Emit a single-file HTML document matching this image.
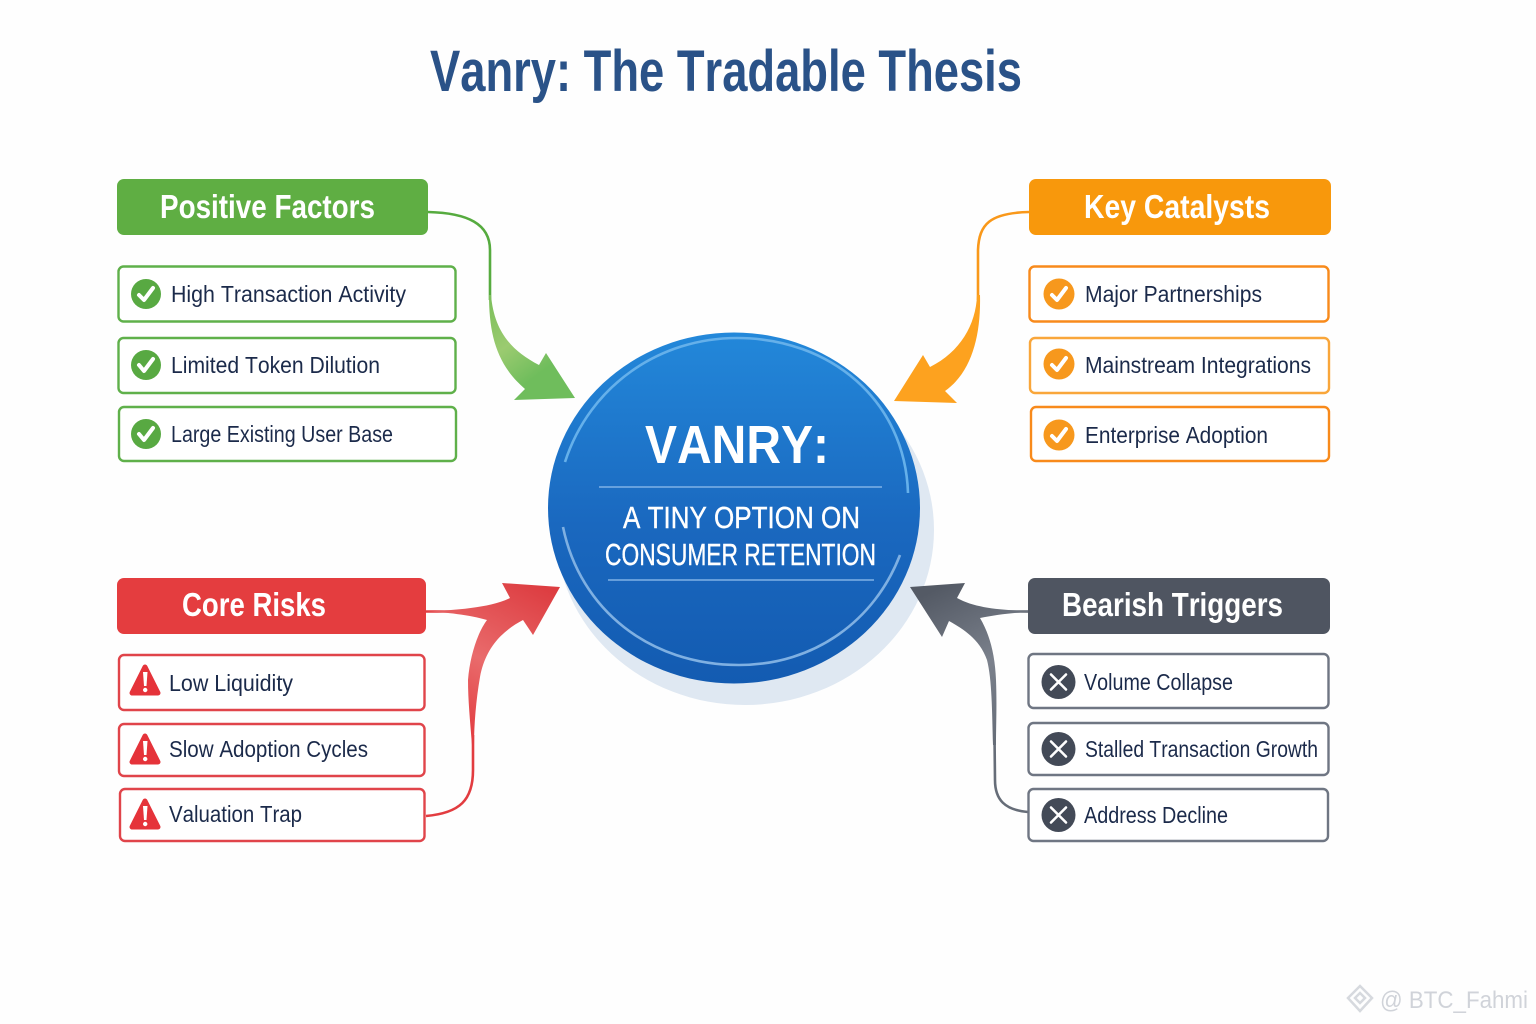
<!DOCTYPE html>
<html><head><meta charset="utf-8"><style>
html,body{margin:0;padding:0;background:#fefefe}
svg{display:block}
text{font-family:"Liberation Sans",Arial,sans-serif;font-kerning:none}
.h{font-size:33px;font-weight:bold;fill:#fff}
.i{font-size:23px;fill:#1b2a4a}
.box{fill:#fff;stroke-width:2.4}
.ck{fill:none;stroke:#fff;stroke-width:4;stroke-linecap:round;stroke-linejoin:round}
.xx{fill:none;stroke:#fff;stroke-width:2.6;stroke-linecap:round}
</style></head><body>
<svg width="1536" height="1024" viewBox="0 0 1536 1024" xmlns="http://www.w3.org/2000/svg">
<defs>
<linearGradient id="disc" x1="0" y1="0" x2="0" y2="1"><stop offset="0" stop-color="#2388da"/><stop offset=".55" stop-color="#1a68bf"/><stop offset="1" stop-color="#135bb1"/></linearGradient>
<linearGradient id="gA" gradientUnits="userSpaceOnUse" x1="490" y1="300" x2="560" y2="395"><stop offset="0" stop-color="#7dbf5c"/><stop offset=".4" stop-color="#9bcb70"/><stop offset=".75" stop-color="#6fbd5c"/></linearGradient>
<linearGradient id="rA" gradientUnits="userSpaceOnUse" x1="472" y1="740" x2="550" y2="590"><stop offset="0" stop-color="#e23c40"/><stop offset=".45" stop-color="#e96b6c"/><stop offset="1" stop-color="#dd3d41"/></linearGradient>
<linearGradient id="kA" gradientUnits="userSpaceOnUse" x1="995" y1="740" x2="925" y2="595"><stop offset="0" stop-color="#666d78"/><stop offset=".45" stop-color="#7b818c"/><stop offset="1" stop-color="#545a65"/></linearGradient>
</defs>
<rect width="1536" height="1024" fill="#fefefe"/>

<text x="430" y="91" font-size="58" font-weight="bold" fill="#2a5288" textLength="592" lengthAdjust="spacingAndGlyphs">Vanry: The Tradable Thesis</text>

<!-- disc -->
<ellipse cx="745" cy="530" rx="189" ry="175" fill="#dfe8f2"/>
<ellipse cx="734" cy="508" rx="186" ry="175.500" fill="url(#disc)"/>
<path d="M565 462C590 385 660 338 737 338C830 338 905 400 908 493" fill="none" stroke="#65b0ea" stroke-width="2.600"/>
<path d="M563 527C580 610 650 665 739 665C815 665 875 620 900 555" fill="none" stroke="#7fb0e2" stroke-width="2.600"/>
<text x="645" y="463" font-size="54" font-weight="bold" fill="#fff" textLength="184" lengthAdjust="spacingAndGlyphs">VANRY:</text>
<line x1="599" y1="487" x2="882" y2="487" stroke="#7fb2e6" stroke-width="1.500"/>
<text x="623" y="528" font-size="31" fill="#fff" stroke="#fff" stroke-width=".4" textLength="237" lengthAdjust="spacingAndGlyphs">A TINY OPTION ON</text>
<text x="605" y="565" font-size="31" fill="#fff" stroke="#fff" stroke-width=".4" textLength="271" lengthAdjust="spacingAndGlyphs">CONSUMER RETENTION</text>
<line x1="608" y1="580" x2="874" y2="580" stroke="#7fb2e6" stroke-width="1.500"/>

<!-- connectors -->
<path d="M428 212C468 213 490 224 490 250L490 300" fill="none" stroke="#56ab3f" stroke-width="2.6"/>
<path d="M489 295C489 335 497 365 525 389L514 400L575 398L546 353L539 365C510 350 494 330 491 295Z" fill="url(#gA)"/>

<path d="M1029 212C990 213 979 224 978 250L978 300" fill="none" stroke="#f9981a" stroke-width="2.6"/>
<path d="M977 295C976 325 960 352 930 367L923 355L894 401L957 403L945 391C972 372 981 335 980 295Z" fill="#fda21f"/>

<path d="M426 816C460 813 473 800 473 770L473 735" fill="none" stroke="#e23c40" stroke-width="2.6"/>
<path d="M426 611.500L470 611.500" fill="none" stroke="#e23c40" stroke-width="2.6"/>
<path d="M472 745C470 720 468 700 468 680C470 655 478 632 487 620C470 615 445 612 426 611.500C455 610 490 608 510 598L502 583L560 587L533 635L523 620C500 632 485 650 480 677C476 700 474 725 474 745Z" fill="url(#rA)"/>

<path d="M1028 812C1005 810 995 800 995 780L994.500 735" fill="none" stroke="#666d78" stroke-width="2.6"/>
<path d="M1028 611.500L985 611.500" fill="none" stroke="#5a606b" stroke-width="2.6"/>
<path d="M993 745C992 710 992 680 987 660C980 640 965 630 949 621L942 637L910 587L965 583L957 598C975 608 1000 610 1028 611L1028 612C1010 613 995 615 980 618C990 635 995 655 996 680C997 705 996 725 996 745Z" fill="url(#kA)"/>

<!-- headers -->
<rect x="117" y="179" width="311" height="56" rx="7" fill="#5fae43"/>
<text class="h" x="160" y="218" textLength="215" lengthAdjust="spacingAndGlyphs">Positive Factors</text>
<rect x="1029" y="179" width="302" height="56" rx="7" fill="#f8980c"/>
<text class="h" x="1084" y="218" textLength="186" lengthAdjust="spacingAndGlyphs">Key Catalysts</text>
<rect x="117" y="578" width="309" height="56" rx="7" fill="#e43d3f"/>
<text class="h" x="182" y="616" textLength="144" lengthAdjust="spacingAndGlyphs">Core Risks</text>
<rect x="1028" y="578" width="302" height="56" rx="7" fill="#4f5561"/>
<text class="h" x="1062" y="616" textLength="221" lengthAdjust="spacingAndGlyphs">Bearish Triggers</text>

<!-- green -->
<g stroke="#5fb04a" class="box">
<rect x="118.500" y="266.500" width="337" height="55" rx="5"/>
<rect x="118.500" y="338" width="337" height="55" rx="5"/>
<rect x="119" y="407" width="337" height="54" rx="5"/>
</g>
<g fill="#58a942">
<circle cx="146" cy="294" r="15"/><circle cx="146" cy="365" r="15"/><circle cx="146" cy="434" r="15"/>
</g>
<path class="ck" d="M139 295L144 300L153 288"/><path class="ck" d="M139 365L144 371L153 359"/><path class="ck" d="M139 434L144 440L153 428"/>
<text class="i" x="171" y="302" textLength="235" lengthAdjust="spacingAndGlyphs">High Transaction Activity</text>
<text class="i" x="171" y="373" textLength="209" lengthAdjust="spacingAndGlyphs">Limited Token Dilution</text>
<text class="i" x="171" y="442" textLength="222" lengthAdjust="spacingAndGlyphs">Large Existing User Base</text>

<!-- orange -->
<g stroke="#f88a1b" class="box">
<rect x="1029.500" y="266.500" width="299" height="55" rx="5"/>
<rect x="1030" y="338" width="299" height="55" rx="5" stroke="#f9a63a"/>
<rect x="1031" y="407" width="298" height="54" rx="5"/>
</g>
<g fill="#f7981d">
<circle cx="1059" cy="294" r="15.500"/><circle cx="1059" cy="364" r="15.500"/><circle cx="1059" cy="435" r="15.500"/>
</g>
<path class="ck" d="M1052 295L1057 300L1066 288"/><path class="ck" d="M1052 365L1057 370L1066 358"/><path class="ck" d="M1052 436L1057 441L1066 429"/>
<text class="i" x="1085" y="302" textLength="177" lengthAdjust="spacingAndGlyphs">Major Partnerships</text>
<text class="i" x="1085" y="373" textLength="226" lengthAdjust="spacingAndGlyphs">Mainstream Integrations</text>
<text class="i" x="1085" y="443" textLength="183" lengthAdjust="spacingAndGlyphs">Enterprise Adoption</text>

<!-- red -->
<g stroke="#e0444a" class="box">
<rect x="119" y="655" width="305.500" height="55" rx="5"/>
<rect x="119" y="724" width="305.500" height="52" rx="5"/>
<rect x="120" y="789" width="304.500" height="52" rx="5"/>
</g>
<g fill="#e5333a" stroke="#e5333a" stroke-width="5" stroke-linejoin="round">
<path d="M145 667L132 693H158Z"/><path d="M145 736L132 762H158Z"/><path d="M145 801L132 827H158Z"/>
</g>
<g fill="#fff">
<path d="M143 672H147.500L146.500 686H144Z"/><circle cx="145.200" cy="690" r="2.200"/>
<path d="M143 741H147.500L146.500 755H144Z"/><circle cx="145.200" cy="759" r="2.200"/>
<path d="M143 806H147.500L146.500 820H144Z"/><circle cx="145.200" cy="824" r="2.200"/>
</g>
<text class="i" x="169" y="691" textLength="124" lengthAdjust="spacingAndGlyphs">Low Liquidity</text>
<text class="i" x="169" y="757" textLength="199" lengthAdjust="spacingAndGlyphs">Slow Adoption Cycles</text>
<text class="i" x="169" y="822" textLength="133" lengthAdjust="spacingAndGlyphs">Valuation Trap</text>

<!-- grey -->
<g stroke="#6f7683" class="box">
<rect x="1028.500" y="654" width="300" height="54" rx="5"/>
<rect x="1028.500" y="723" width="300" height="52" rx="5"/>
<rect x="1028.500" y="789" width="299.500" height="52" rx="5"/>
</g>
<g fill="#434a57">
<circle cx="1058.500" cy="682" r="17"/><circle cx="1058.500" cy="749" r="17"/><circle cx="1058.500" cy="815" r="17"/>
</g>
<path class="xx" d="M1051 674.500L1066 689.500M1066 674.500L1051 689.500"/>
<path class="xx" d="M1051 741.500L1066 756.500M1066 741.500L1051 756.500"/>
<path class="xx" d="M1051 807.500L1066 822.500M1066 807.500L1051 822.500"/>
<text class="i" x="1084" y="690" textLength="149" lengthAdjust="spacingAndGlyphs">Volume Collapse</text>
<text class="i" x="1085" y="757" textLength="233" lengthAdjust="spacingAndGlyphs">Stalled Transaction Growth</text>
<text class="i" x="1084" y="823" textLength="144" lengthAdjust="spacingAndGlyphs">Address Decline</text>

<!-- watermark -->
<g fill="none" stroke="#d6d9de" stroke-width="2.500">
<path d="M1360 986L1372 998L1360 1011L1348 998Z"/><path d="M1360 993L1365 998L1360 1003L1355 998Z"/>
</g>
<text x="1380" y="1008" font-size="24" fill="#d0d3d9" textLength="148" lengthAdjust="spacingAndGlyphs">@ BTC_Fahmi</text>
</svg>
</body></html>
